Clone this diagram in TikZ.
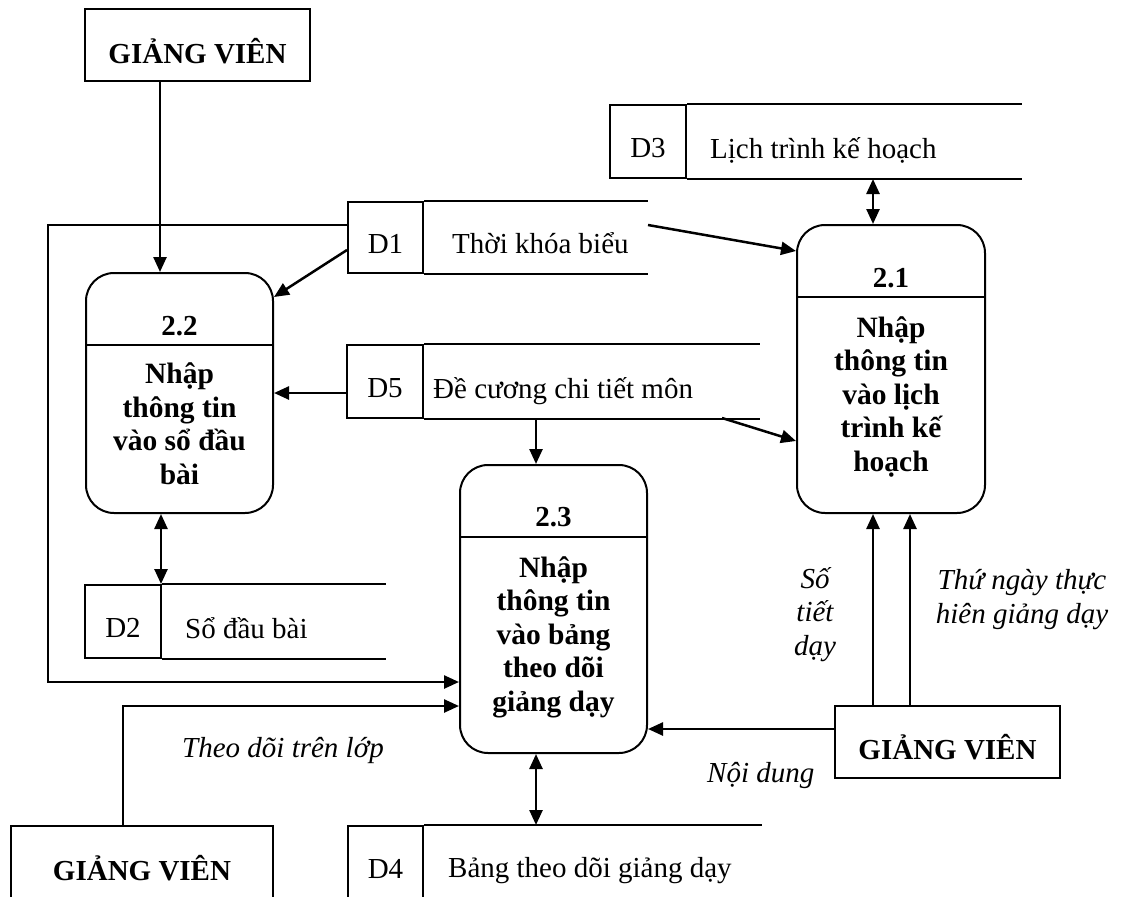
\documentclass[tikz,border=0pt]{standalone}
\usepackage{fontspec}
\setmainfont{Liberation Serif}
\usetikzlibrary{arrows.meta}
\begin{document}
\begin{tikzpicture}[x=1pt,y=-1pt,
  every node/.style={font=\fontsize{29}{33.5}\selectfont},
  entity/.style={draw,line width=2pt,minimum width=225pt,minimum height=72pt,
    inner sep=0pt,text height=36pt,text depth=0pt,
    font=\fontsize{29}{33.5}\selectfont\bfseries},
  proc/.style={draw,line width=2pt,rounded corners=28pt,inner sep=0pt},
  procnum/.style={anchor=base,inner sep=0pt,font=\fontsize{29}{33.5}\selectfont\bfseries},
  procbody/.style={anchor=base,inner sep=0pt,align=center,
    font=\fontsize{29.5}{33.5}\selectfont\bfseries},
  storeid/.style={draw,line width=2pt,minimum width=75pt,minimum height=73pt,
    inner sep=0pt,text height=32pt,text depth=0pt},
  storetxt/.style={anchor=base west,inner sep=0pt},
  storeline/.style={line width=2pt},
  lbl/.style={inner sep=0pt,align=center,font=\fontsize{29}{33.5}\selectfont\itshape},
  arr/.style={line width=2.5pt,-{Triangle[length=15pt,width=13pt]}},
  dbl/.style={line width=2.5pt,{Triangle[length=15pt,width=13pt]}-{Triangle[length=15pt,width=13pt]}}
]
\useasboundingbox (0,0) rectangle (1122,897);
\fill[white] (0,0) rectangle (1122,897);
\clip (0,0) rectangle (1122,897);

% external entities
\node[entity] (gv1) at (197.5,45) {GIẢNG VIÊN};
\node[entity] (gv2) at (947.5,741.5) {GIẢNG VIÊN};
\node[entity,minimum width=262pt] (gv3) at (142,862) {GIẢNG VIÊN};

% processes (multi-line bodies are placed by the baseline of their last line)
\node[proc,minimum width=187pt,minimum height=240pt] (p22) at (179.5,393) {};
\draw[line width=2pt] (p22.west |- 0,345) -- (p22.east |- 0,345);
\node[procnum] (p22n) at (179.5,335) {2.2};
\node[procbody] (p22b) at (179.5,484) {Nhập\\thông tin\\vào sổ đầu\\bài};

\node[proc,minimum width=188pt,minimum height=288pt] (p21) at (891,369) {};
\draw[line width=2pt] (p21.west |- 0,297) -- (p21.east |- 0,297);
\node[procnum] (p21n) at (891,287) {2.1};
\node[procbody] (p21b) at (891,471) {Nhập\\thông tin\\vào lịch\\trình kế\\hoạch};

\node[proc,minimum width=187pt,minimum height=288pt] (p23) at (553.5,609) {};
\draw[line width=2pt] (p23.west |- 0,537) -- (p23.east |- 0,537);
\node[procnum] (p23n) at (553.5,526) {2.3};
\node[procbody] (p23b) at (553.5,711) {Nhập\\thông tin\\vào bảng\\theo dõi\\giảng dạy};

% data stores
\node[storeid,minimum width=76pt] (d3id) at (648,141.5) {D3};
\coordinate (d3end) at (1022,141.5);
\draw[storeline] (d3id.north east) -- (d3id.north east -| d3end);
\draw[storeline] (d3id.south east) -- (d3id.south east -| d3end);
\node[storetxt] (d3t) at (710,158) {Lịch trình kế hoạch};

\node[storeid,minimum height=71pt] (d1id) at (385.5,237.5) {D1};
\coordinate (d1end) at (648,225);
\draw[storeline] (d1id.north east) -- (d1id.north east -| d1end);
\draw[storeline] (d1id.south east) -- (d1id.south east -| d1end);
\node[storetxt] (d1t) at (452,253) {Thời khóa biểu};

\node[storeid,minimum width=76pt] (d5id) at (385,381.5) {D5};
\coordinate (d5end) at (760,381.5);
\draw[storeline] (d5id.north east) -- (d5id.north east -| d5end);
\draw[storeline] (d5id.south east) -- (d5id.south east -| d5end);
\node[storetxt] (d5t) at (433,398) {Đề cương chi tiết môn};

\node[storeid,minimum width=76pt] (d2id) at (123,621.5) {D2};
\coordinate (d2end) at (386,621.5);
\draw[storeline] (d2id.north east) -- (d2id.north east -| d2end);
\draw[storeline] (d2id.south east) -- (d2id.south east -| d2end);
\node[storetxt] (d2t) at (185,638) {Sổ đầu bài};

\node[storeid] (d4id) at (385.5,862.5) {D4};
\coordinate (d4end) at (762,862.5);
\draw[storeline] (d4id.north east) -- (d4id.north east -| d4end);
\draw[storeline] (d4id.south east) -- (d4id.south east -| d4end);
\node[storetxt] (d4t) at (448,877) {Bảng theo dõi giảng dạy};

% data flows
\draw[arr] ([xshift=-19.5pt]p22.north |- gv1.south) -- ([xshift=-19.5pt]p22.north);
\coordinate (loopcorner) at (48,682);
\draw[arr] (d1id.west |- 0,225) -| (loopcorner) -- (p23.west |- loopcorner);
\draw[arr] (d1id.west |- 0,250) -- (p22.east |- 0,297);
\draw[arr] (d1end) -- (p21.west |- 0,251);
\draw[dbl] ([xshift=-18pt]p21.north |- d3id.south) -- ([xshift=-18pt]p21.north);
\draw[arr] (d5id.west |- 0,393) -- (p22.east |- 0,393);
\draw[arr] ([xshift=-17.5pt]p23.north |- d5id.south) -- ([xshift=-17.5pt]p23.north);
\coordinate (d5out) at (722,418);
\draw[arr] (d5out) -- (p21.west |- 0,441);
\draw[dbl] ([xshift=-18.5pt]p22.south) -- ([xshift=-18.5pt]p22.south |- d2id.north);
\draw[arr] ([xshift=-19pt]gv3.north) |- (p23.west |- 0,706);
\draw[dbl] ([xshift=-17.5pt]p23.south) -- ([xshift=-17.5pt]p23.south |- d4id.north);
\draw[arr] (gv2.west |- 0,729) -- (p23.east |- 0,729);
\draw[arr] ([xshift=-74.5pt]gv2.north) -- ([xshift=-74.5pt]gv2.north |- p21.south);
\draw[arr] ([xshift=-37.5pt]gv2.north) -- ([xshift=-37.5pt]gv2.north |- p21.south);

% flow labels
\node[lbl,anchor=base] (lsotiet) at (815,655) {Số\\tiết\\dạy};
\node[lbl,anchor=base] (lthu) at (1022,623) {Thứ ngày thực\\hiên giảng dạy};
\node[lbl,anchor=base west] (lnoidung) at (707,782) {Nội dung};
\node[lbl,anchor=base west] (ltheodoi) at (182,757) {Theo dõi trên lớp};
\end{tikzpicture}
\end{document}
